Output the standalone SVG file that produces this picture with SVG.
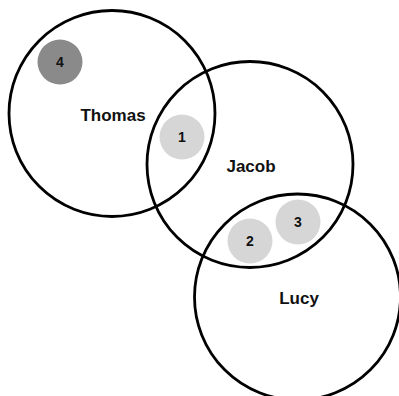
<svg xmlns="http://www.w3.org/2000/svg" width="399" height="396" viewBox="0 0 399 396">
<style>
.set{fill:none;stroke:#000;stroke-width:2.8}
.lbl{font-family:"Liberation Sans",Arial,sans-serif;font-weight:bold;font-size:17px;fill:#111;text-anchor:middle}
.num{font-family:"Liberation Sans",Arial,sans-serif;font-weight:bold;font-size:14px;fill:#111;text-anchor:middle}
.light{fill:#d6d6d6}
.dark{fill:#8a8a8a}
</style>
<rect width="399" height="396" fill="#fff"/>
<g id="items">
<g id="item4"><circle class="dark" cx="60" cy="62" r="22.5"/><text class="num" x="60" y="67">4</text></g>
<g id="item1"><circle class="light" cx="182" cy="137" r="22.5"/><text class="num" x="182" y="142">1</text></g>
<g id="item2"><circle class="light" cx="250" cy="241" r="22.5"/><text class="num" x="250" y="246">2</text></g>
<g id="item3"><circle class="light" cx="298" cy="222" r="22.5"/><text class="num" x="298" y="227">3</text></g>
</g>
<g id="thomas"><circle class="set" cx="112" cy="113.5" r="103"/><text class="lbl" x="113" y="121">Thomas</text></g>
<g id="jacob"><circle class="set" cx="250" cy="164.5" r="103"/><text class="lbl" x="251" y="172">Jacob</text></g>
<g id="lucy"><circle class="set" cx="297.5" cy="297" r="103"/><text class="lbl" x="299" y="304">Lucy</text></g>
<g id="connectors"></g>
</svg>
